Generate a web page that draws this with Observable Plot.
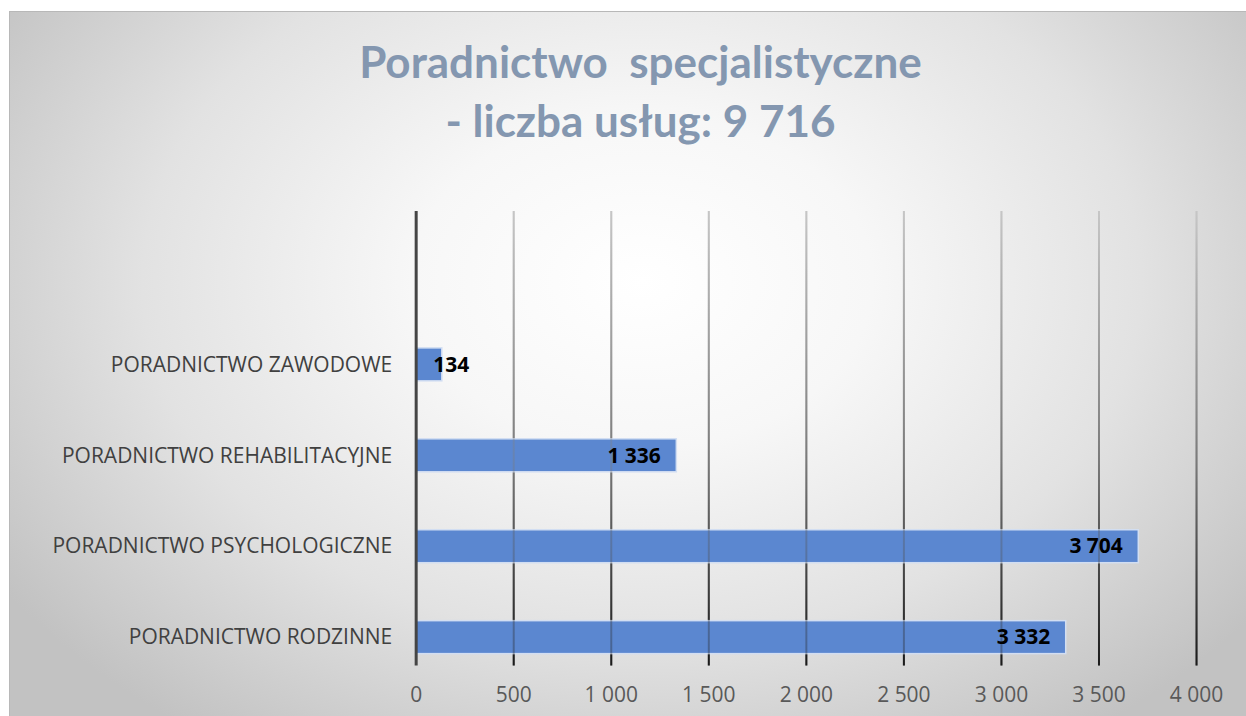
<!DOCTYPE html>
<html>
<head>
<meta charset="utf-8">
<script src="https://cdn.jsdelivr.net/npm/d3@7"></script>
<script src="https://cdn.jsdelivr.net/npm/@observablehq/plot@0.6"></script>
<style>
  html, body { margin: 0; padding: 0; background: #ffffff; overflow: hidden; }
  #frame {
    position: absolute; left: 9px; top: 11px; width: 1240px; height: 710px;
    border-top: 1px solid #b8b8b8; border-left: 1px solid #b8b8b8;
    box-sizing: border-box;
    background: radial-gradient(ellipse 62% 78% at 51% 38%, #ffffff 0%, #f7f7f7 30%, #e2e2e2 65%, #c2c2c2 100%);
  }
  #title {
    height: 190px; box-sizing: border-box; padding-top: 20px;
    font-family: Lato, "Open Sans", sans-serif; font-weight: bold; font-size: 44px;
    line-height: 59px; color: #8497b0; text-align: center;
    padding-left: 22px; white-space: pre;
  }
  svg { display: block; background: transparent !important; }
</style>
</head>
<body>
<div id="frame">
  <div id="title">Poradnictwo  specjalistyczne
- liczba usług: 9 716</div>
  <div id="chart"></div>
</div>
<script>
const categories = ["PORADNICTWO ZAWODOWE", "PORADNICTWO REHABILITACYJNE", "PORADNICTWO PSYCHOLOGICZNE", "PORADNICTWO RODZINNE"];
const values = [134, 1336, 3704, 3332];
const xTicks = [0, 500, 1000, 1500, 2000, 2500, 3000, 3500, 4000];

const data = categories.map((c, i) => ({category: c, value: values[i]}));
const fmt = d3.formatLocale({thousands: " ", grouping: [3], decimal: ",", currency: ["", ""]}).format(",d");
const gridTicks = xTicks.filter(d => d > 0);
const font = "'Open Sans', sans-serif";

const chart = Plot.plot({
  width: 1240,
  height: 515,
  marginLeft: 406,
  marginRight: 53,
  marginTop: 9,
  marginBottom: 51,
  style: {background: "transparent", overflow: "visible"},
  x: {domain: [0, 4000], label: null},
  y: {domain: categories, range: [145.6, 452.4], paddingInner: 0.64, paddingOuter: 0, label: null},
  marks: [
    Plot.ruleX(gridTicks, {stroke: "url(#gridGrad)", strokeWidth: 2}),
    Plot.barX(data, {x: "value", y: "category", fill: "#5b87d0", stroke: "#d2def2", strokeWidth: 1.5}),
    Plot.ruleX(gridTicks, {stroke: "url(#gridGrad)", strokeWidth: 2, strokeOpacity: 0.35}),
    Plot.ruleX([0], {stroke: "#454545", strokeWidth: 3}),
    Plot.axisX({ticks: xTicks, tickSize: 0, tickPadding: 21, tickFormat: fmt, fontSize: 21,
      fill: "#595959", fontFamily: font, label: null}),
    Plot.axisY({tickSize: 0, tickPadding: 24, fontSize: 21, fill: "#404040",
      fontFamily: font, label: null}),
    Plot.text(data.filter(d => d.value >= 500), {x: "value", y: "category", text: d => fmt(d.value),
      textAnchor: "end", dx: -16, fontSize: 21, fontWeight: "bold", fill: "#000", fontFamily: font}),
    Plot.text(data.filter(d => d.value < 500), {x: 0, y: "category", text: d => fmt(d.value),
      textAnchor: "start", dx: 17, fontSize: 21, fontWeight: "bold", fill: "#000", fontFamily: font})
  ]
});
const defs = d3.select(chart).insert("defs", ":first-child");
const g = defs.append("linearGradient").attr("id", "gridGrad")
  .attr("gradientUnits", "userSpaceOnUse").attr("x1", 0).attr("x2", 0).attr("y1", 9).attr("y2", 464);
g.append("stop").attr("offset", "0%").attr("stop-color", "#c6c6c6");
g.append("stop").attr("offset", "55%").attr("stop-color", "#7a7a7a");
g.append("stop").attr("offset", "100%").attr("stop-color", "#1a1a1a");
document.getElementById("chart").appendChild(chart);
</script>
</body>
</html>
